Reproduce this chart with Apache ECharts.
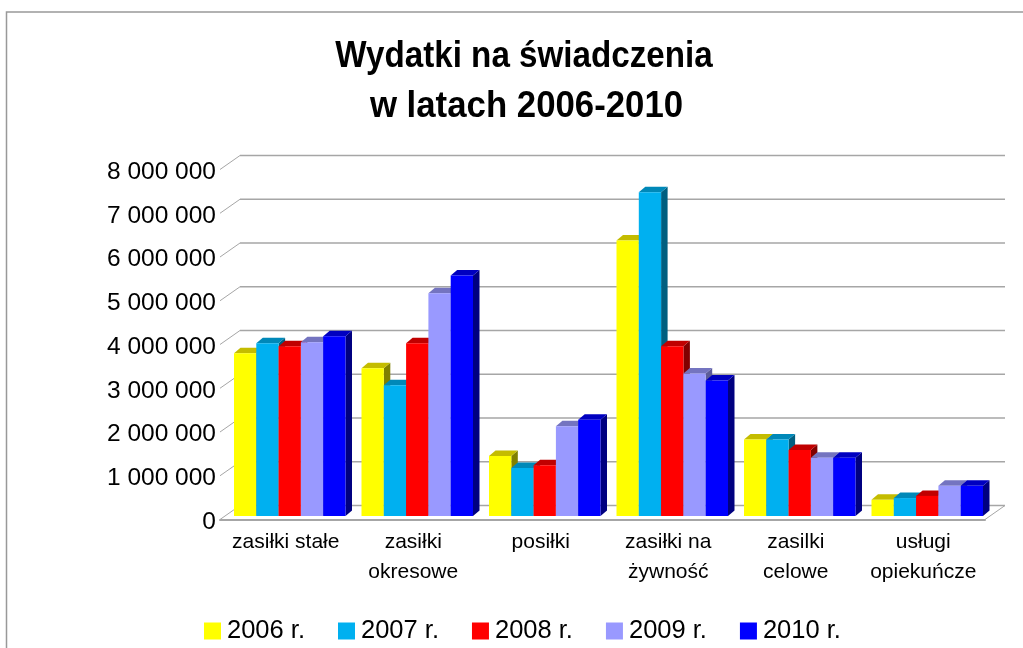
<!DOCTYPE html>
<html>
<head>
<meta charset="utf-8">
<title>Wydatki na świadczenia</title>
<script src="https://cdn.jsdelivr.net/npm/echarts@6/dist/echarts.min.js"></script>
<style>
  html, body { margin: 0; padding: 0; background: #fff; overflow: hidden; }
  #chart { width: 1023px; height: 648px; }
</style>
</head>
<body>
<div id="chart"></div>
<script>
var categories = ["zasiłki stałe", "zasiłki\nokresowe", "posiłki", "zasiłki na\nżywność", "zasilki\ncelowe", "usługi\nopiekuńcze"];
var yTicks = [0, 1000000, 2000000, 3000000, 4000000, 5000000, 6000000, 7000000, 8000000];
var years = ["2006 r.", "2007 r.", "2008 r.", "2009 r.", "2010 r."];
var y2006 = [3720000, 3380000, 1370000, 6300000, 1750000, 370000];
var y2007 = [3950000, 2990000, 1100000, 7400000, 1750000, 410000];
var y2008 = [3880000, 3950000, 1160000, 3880000, 1510000, 460000];
var y2009 = [3970000, 5090000, 2050000, 3260000, 1330000, 690000];
var y2010 = [4110000, 5500000, 2200000, 3100000, 1330000, 690000];
var yearValues = [y2006, y2007, y2008, y2009, y2010];
var faceColors = ["#ffff00", "#00b0f0", "#ff0000", "#9999ff", "#0000ff"];
var topColors = ["#c4bc00", "#0088b8", "#c00000", "#7474c0", "#0000c0"];
var sideColors = ["#808000", "#005f80", "#800000", "#5c5c99", "#000080"];

// depth of the back wall and of the bars, in px
var wallDx = 20, wallDy = -14;
var barDx = 6.5, barDy = -5.5;
var planeDy = -3.5, groupStart = 14, barW = 22.3;

var chart = echarts.init(document.getElementById("chart"));

function wallItem(params, api) {
  var p = api.coord([0, api.value(0)]);
  var cs = params.coordSys;
  var y = p[1];
  var x0 = cs.x, x1 = cs.x + cs.width;
  var children = [{
    type: "polyline",
    shape: { points: [[x0, y], [x0 + wallDx, y + wallDy]] },
    style: { stroke: "#a6a6a6", lineWidth: 1, fill: null }
  }, {
    type: "line",
    shape: { x1: x0 + wallDx, y1: y + wallDy, x2: x1 + wallDx, y2: y + wallDy },
    style: { stroke: "#a6a6a6", lineWidth: 1.5 }
  }];
  if (api.value(0) === 0) {
    children.push({
      type: "line",
      shape: { x1: x1, y1: y, x2: x1 + wallDx, y2: y + wallDy },
      style: { stroke: "#a6a6a6", lineWidth: 1 }
    });
  }
  return { type: "group", children: children };
}

function barItem(s) {
  return function (params, api) {
    var cat = api.value(0);
    var top = api.coord([cat, api.value(1)]);
    var base = api.coord([cat, 0]);
    var band = api.size([1, 0])[0];
    var x = top[0] - band / 2 + groupStart + s * barW;
    var w = barW;
    var t = top[1] + planeDy, b = base[1] + planeDy;
    return {
      type: "group",
      children: [{
        type: "polygon",
        shape: { points: [[x + w, t], [x + w + barDx, t + barDy], [x + w + barDx, b + barDy], [x + w, b]] },
        style: { fill: sideColors[s] }
      }, {
        type: "polygon",
        shape: { points: [[x, t], [x + barDx, t + barDy], [x + w + barDx, t + barDy], [x + w, t]] },
        style: { fill: topColors[s] }
      }, {
        type: "rect",
        shape: { x: x, y: t, width: w, height: b - t },
        style: { fill: faceColors[s] }
      }]
    };
  };
}

var series = [{
  type: "custom",
  name: "wall",
  silent: true,
  coordinateSystem: "cartesian2d",
  encode: { y: 0 },
  data: yTicks.map(function (v) { return [v]; }),
  renderItem: wallItem,
  z: 1
}];
years.forEach(function (name, s) {
  series.push({
    type: "custom",
    name: name,
    coordinateSystem: "cartesian2d",
    encode: { x: 0, y: 1 },
    itemStyle: { color: faceColors[s] },
    data: yearValues[s].map(function (v, i) { return [i, v]; }),
    renderItem: barItem(s),
    z: 2 + s
  });
});

function titleLine(text, cx, y, sx) {
  return {
    type: "text",
    silent: true,
    x: cx,
    y: y,
    scaleX: sx,
    style: {
      text: text,
      fontFamily: "Liberation Sans",
      fontSize: 36,
      fontWeight: "bold",
      fill: "#000",
      align: "center",
      verticalAlign: "middle"
    }
  };
}

var option = {
  animation: false,
  backgroundColor: "#fff",
  textStyle: { fontFamily: "Liberation Sans" },
  graphic: [{
    type: "rect",
    silent: true,
    shape: { x: 6.5, y: 12, width: 1040, height: 670 },
    style: { fill: null, stroke: "#999", lineWidth: 1.5 }
  },
    titleLine("Wydatki na świadczenia", 524, 57.5, 0.922),
    titleLine("w latach 2006-2010", 526.5, 107, 0.966)
  ],
  legend: {
    data: years,
    left: 199,
    top: 613,
    icon: "rect",
    itemWidth: 17,
    itemHeight: 17,
    itemGap: 33,
    textStyle: { fontFamily: "Liberation Sans", fontSize: 25.5, color: "#000", padding: [9, 0, 0, 1] }
  },
  grid: { left: 220, top: 169.5, width: 765, height: 350 },
  xAxis: {
    type: "category",
    data: categories,
    axisLine: { show: true, lineStyle: { color: "#a6a6a6", width: 2 } },
    axisTick: { show: false },
    splitLine: { show: false },
    axisLabel: { interval: 0, margin: 8, fontSize: 21, lineHeight: 30, padding: [0, 0, 0, 4], color: "#000", fontFamily: "Liberation Sans" }
  },
  yAxis: {
    type: "value",
    min: 0,
    max: 8000000,
    interval: 1000000,
    axisLine: { show: false },
    axisTick: { show: false },
    splitLine: { show: false },
    axisLabel: {
      margin: 4,
      fontSize: 24.5,
      color: "#000",
      verticalAlign: "top",
      lineHeight: 5,
      fontFamily: "Liberation Sans",
      formatter: function (v) { return String(v).replace(/\B(?=(\d{3})+$)/g, " "); }
    }
  },
  series: series
};
chart.setOption(option);
</script>
</body>
</html>
